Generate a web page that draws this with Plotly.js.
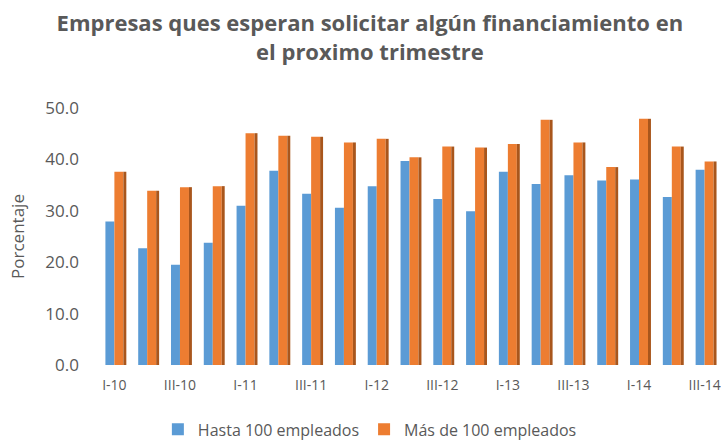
<!DOCTYPE html>
<html>
<head>
<meta charset="utf-8">
<script src="https://cdn.plot.ly/plotly-3.0.1.min.js"></script>
<style>html,body{margin:0;padding:0;background:#fff;}#chart{width:721px;height:445px;}</style>
</head>
<body>
<div id="chart"></div>
<script>
const categories = ["I-10","II-10","III-10","IV-10","I-11","II-11","III-11","IV-11","I-12","II-12","III-12","IV-12","I-13","II-13","III-13","IV-13","I-14","II-14","III-14"];
const hasta100 = [27.9,22.7,19.5,23.8,31.0,37.8,33.3,30.6,34.8,39.7,32.3,29.9,37.6,35.2,36.9,35.9,36.1,32.7,38.0];
const mas100 = [37.6,33.9,34.6,34.8,45.1,44.6,44.4,43.3,44.0,40.4,42.5,42.3,43.0,47.7,43.3,38.5,47.9,42.5,39.6];
const tickLabels = ["I-10","","III-10","","I-11","","III-11","","I-12","","III-12","","I-13","","III-13","","I-14","","III-14"];

const idx = categories.map((c,i)=>i);
const W = 0.274, S = 0.09;
const traces = [
  {type:'bar', x:idx, y:hasta100, name:'Hasta 100 empleados', offset:-W, width:W,
   marker:{color:'#5b9bd5'}, hoverinfo:'y'},
  {type:'bar', x:idx, y:mas100, name:'Más de 100 empleados', offset:0, width:W,
   marker:{color:'#ed7d31'}, hoverinfo:'y'},
  {type:'bar', x:idx, y:mas100, name:'side', offset:W, width:S, showlegend:false,
   marker:{color:'#a9561c'}, hoverinfo:'skip'}
];
const layout = {
  width:721, height:445,
  margin:{l:98, r:0, t:108, b:80},
  paper_bgcolor:'#fff', plot_bgcolor:'#fff',
  barmode:'overlay',
  font:{family:'Open Sans, sans-serif', color:'#595959'},
  title:{text:'<b>Empresas ques esperan solicitar algún financiamiento en<br>el proximo trimestre</b>',
    font:{size:22, color:'#595959', family:'Open Sans, sans-serif'},
    x:0.513, xref:'container', xanchor:'center', y:0.93, yref:'container', yanchor:'top'},
  xaxis:{range:[-0.5,18.5], tickmode:'array', tickvals:idx, ticktext:tickLabels,
    showgrid:false, zeroline:false, showline:false, ticks:'', ticklabelstandoff:10,
    tickfont:{size:14, color:'#595959'}, fixedrange:true},
  yaxis:{range:[0,50], tickmode:'array', tickvals:[0,10,20,30,40,50], tickformat:'.1f',
    showgrid:false, zeroline:false, showline:false, ticks:'', ticklabelstandoff:18,
    tickfont:{size:17, color:'#595959'},
    title:{text:'Porcentaje', font:{size:17, color:'#595959'}, standoff:16}, automargin:false},
  legend:{orientation:'h', x:0.513, xref:'container', xanchor:'center', y:0.035, yref:'container', yanchor:'middle',
    font:{size:16, color:'#595959'}, traceorder:'normal'},
  showlegend:true
};
Plotly.newPlot('chart', traces, layout, {displayModeBar:false, staticPlot:true});
</script>
</body>
</html>
